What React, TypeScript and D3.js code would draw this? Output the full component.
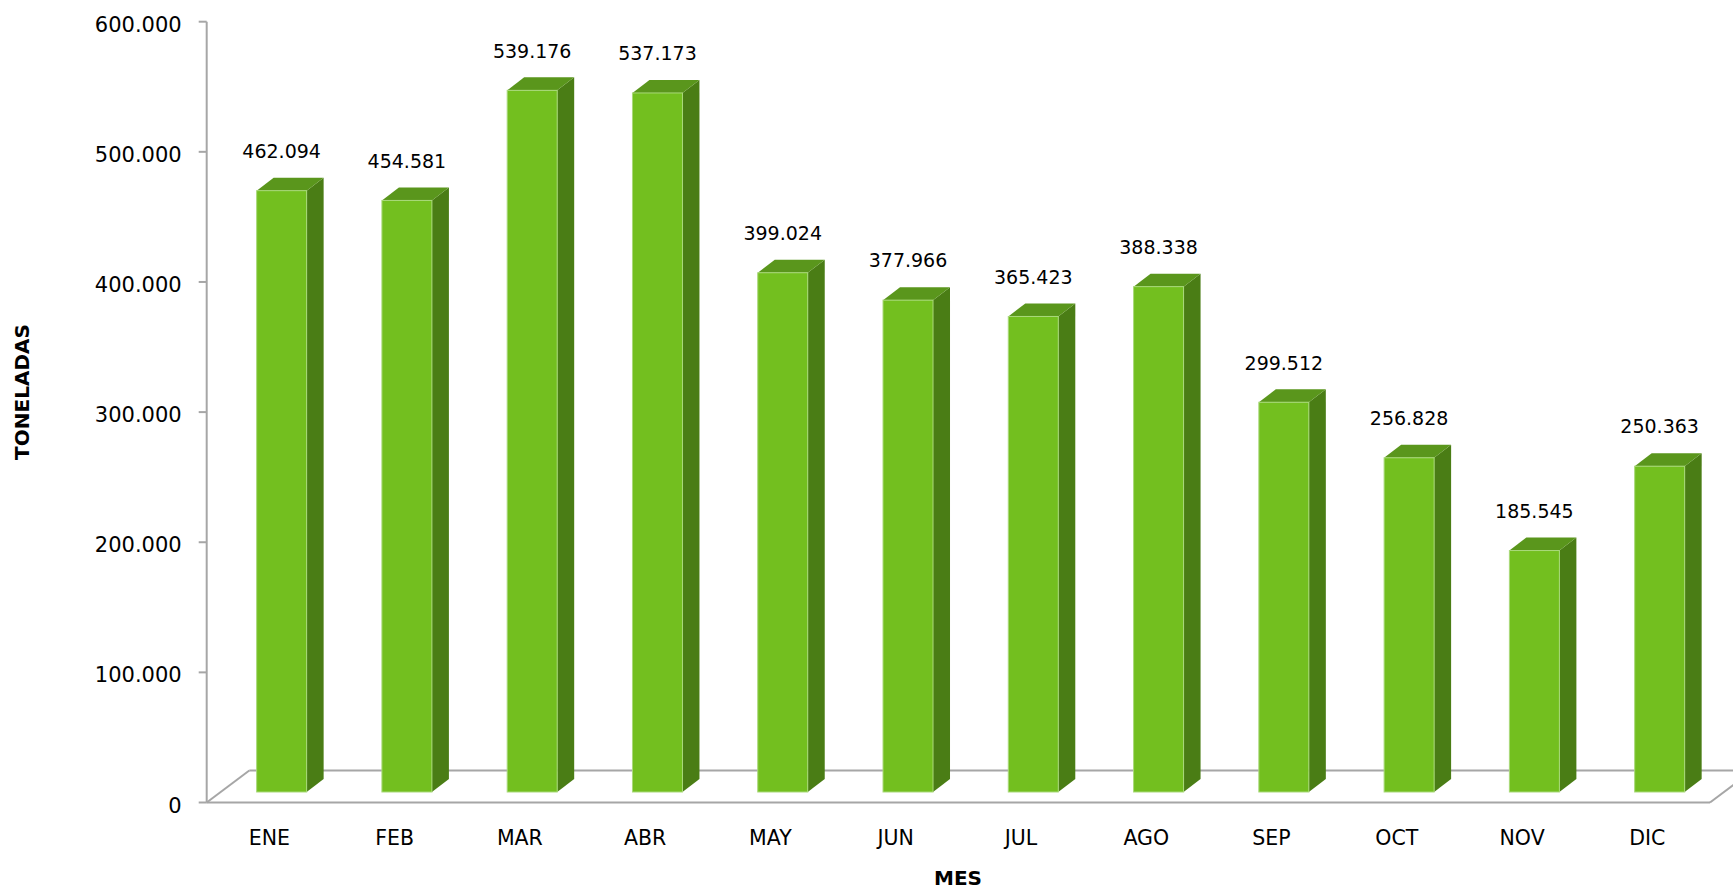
import React from "react";
import * as d3 from "d3";

const months = ["ENE", "FEB", "MAR", "ABR", "MAY", "JUN", "JUL", "AGO", "SEP", "OCT", "NOV", "DIC"];
const values = [462094, 454581, 539176, 537173, 399024, 377966, 365423, 388338, 299512, 256828, 185545, 250363];
const yTicks = [0, 100000, 200000, 300000, 400000, 500000, 600000];

const W = 1733;
const H = 889;

const fmt = (v: number) => d3.format(",.0f")(v).replace(/,/g, ".");

export default function App() {
  const axisX = 206.7;
  const y = d3.scaleLinear().domain([0, 600000]).range([802.5, 21.7]);
  const x = d3.scaleBand<string>().domain(months).range([axisX, 1710]).padding(0);
  const floorDx = 42.6;
  const floorDy = 32;
  const barBaseShift = 10.5;
  const barW = 50;
  const depthX = 17;
  const depthY = 13;
  const font = "'DejaVu Sans', Verdana, sans-serif";
  const grey = "#a6a6a6";

  const y0 = y(0);

  return (
    <svg width={W} height={H} style={{ position: "absolute", left: 0, top: 0 }}>
      <rect width={W} height={H} fill="#ffffff" />
      <g stroke={grey} strokeWidth={2} fill="none">
        <line x1={axisX} y1={y0} x2={axisX + floorDx} y2={y0 - floorDy} />
        <line x1={axisX + floorDx} y1={y0 - floorDy} x2={W + 10} y2={y0 - floorDy} />
        <line x1={axisX} y1={y0} x2={1710} y2={y0} />
        <line x1={1710} y1={y0} x2={1710 + floorDx} y2={y0 - floorDy} />
      </g>
      <g stroke={grey} strokeWidth={2}>
        <line x1={axisX} y1={y(600000)} x2={axisX} y2={y0} />
        {yTicks.map((t) => (
          <line key={t} x1={axisX - 8} x2={axisX} y1={y(t)} y2={y(t)} />
        ))}
      </g>
      <g fontFamily={font} fontSize={21} fill="#000" textAnchor="end">
        {yTicks.map((t) => (
          <text key={t} x={181.7} y={y(t) + 3} dominantBaseline="central">
            {t === 0 ? "0" : fmt(t)}
          </text>
        ))}
      </g>
      {months.map((m, i) => {
        const c = (x(m) as number) + x.bandwidth() / 2;
        const left = c - 12.7;
        const base = y0 - barBaseShift;
        const top = base - (y0 - y(values[i]));
        const right = left + barW;
        return (
          <g key={m}>
            <polygon
              points={`${right},${top} ${right + depthX},${top - depthY} ${right + depthX},${base - depthY} ${right},${base}`}
              fill="#4a7d15"
            />
            <polygon
              points={`${left},${top} ${left + depthX},${top - depthY} ${right + depthX},${top - depthY} ${right},${top}`}
              fill="#5a961c"
            />
            <rect x={left} y={top} width={barW} height={base - top} fill="#73bf1f" stroke="#a9d97a" strokeWidth={1} />
            <text
              x={left + barW / 2}
              y={top - 32.7}
              textAnchor="middle"
              fontFamily={font}
              fontSize={19}
              fill="#000"
            >
              {fmt(values[i])}
            </text>
          </g>
        );
      })}
      <g fontFamily={font} fontSize={20.5} fill="#000" textAnchor="middle">
        {months.map((m) => (
          <text key={m} x={(x(m) as number) + x.bandwidth() / 2} y={845}>
            {m}
          </text>
        ))}
      </g>
      <text x={958} y={885} textAnchor="middle" fontFamily={font} fontWeight="bold" fontSize={20} fill="#000">
        MES
      </text>
      <text
        transform={`translate(29, 392) rotate(-90)`}
        textAnchor="middle"
        fontFamily={font}
        fontWeight="bold"
        fontSize={20}
        fill="#000"
      >
        TONELADAS
      </text>
    </svg>
  );
}
